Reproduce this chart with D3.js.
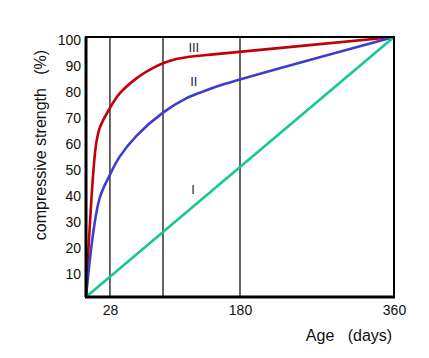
<!DOCTYPE html>
<html>
<head>
<meta charset="utf-8">
<script src="https://cdn.jsdelivr.net/npm/d3@7"></script>
<style>
  body { margin: 0; background: #fff; }
  text { font-family: "Liberation Sans", Arial, sans-serif; }
</style>
</head>
<body>
<div id="chart"></div>
<script>
// curve data (age in days, strength in %)
let daysIII = [0, 11.4, 16, 27.8, 39.4, 59, 78, 90, 105.5, 121, 152, 360];
let valIII  = [0, 57.8, 65, 72.6, 78.3, 84.1, 88, 89.9, 91.5, 92.4, 93.4, 100];

let daysII = [0, 15.5, 27.8, 39.4, 59, 90, 117, 136.7, 152, 360];
let valII  = [0, 37.5, 46.9, 54, 62, 70.9, 76.4, 79, 80.9, 100];

let daysI = [0, 360];
let valI  = [0, 100];

let xTicks = [28, 180, 360];
let yTicks = [10, 20, 30, 40, 50, 60, 70, 80, 90, 100];
let gridDays = [28, 90, 180];

let curveLabels = ["III", "II", "I"];
let labelPos = [[126, 95.5], [126, 82.5], [125, 41]];
let colors = ["#c20008", "#3c3cce", "#17c98f"];

let width = 429, height = 358,
    margin = {top: 37, right: 35, bottom: 61, left: 86};

let svg = d3.select("#chart").append("svg")
    .attr("width", width)
    .attr("height", height);

let x = d3.scaleLinear().domain([0, 360]).range([margin.left, width - margin.right]);
let y = d3.scaleLinear().domain([0, 100]).range([height - margin.bottom, margin.top]);

// vertical reference lines
svg.selectAll(".grid")
    .data(gridDays)
    .enter().append("line")
    .attr("x1", d => x(d)).attr("x2", d => x(d))
    .attr("y1", y(0)).attr("y2", y(100))
    .attr("stroke", "#000")
    .attr("stroke-width", 1.2);

// curves
let series = [
    {d: daysIII, v: valIII},
    {d: daysII, v: valII},
    {d: daysI, v: valI}
];
let line = d3.line()
    .x(d => x(d[0]))
    .y(d => y(d[1]))
    .curve(d3.curveCatmullRom.alpha(0.5));

series.forEach(function(s, i) {
    svg.append("path")
        .datum(s.d.map((dd, j) => [dd, s.v[j]]))
        .attr("d", line)
        .attr("fill", "none")
        .attr("stroke", colors[i])
        .attr("stroke-width", 2.6);
});

// frame
svg.append("rect")
    .attr("x", x(0)).attr("y", y(100))
    .attr("width", x(360) - x(0)).attr("height", y(0) - y(100))
    .attr("fill", "none")
    .attr("stroke", "#000")
    .attr("stroke-width", 2);
svg.append("line")
    .attr("x1", x(0) - 1).attr("x2", x(360) + 1)
    .attr("y1", y(0)).attr("y2", y(0))
    .attr("stroke", "#000").attr("stroke-width", 3);
svg.append("line")
    .attr("x1", x(0)).attr("x2", x(0))
    .attr("y1", y(100)).attr("y2", y(0))
    .attr("stroke", "#000").attr("stroke-width", 3);

// axes
let yAxis = svg.append("g")
    .attr("transform", "translate(" + x(0) + ",0)")
    .call(d3.axisLeft(y).tickValues(yTicks).tickSize(0).tickPadding(5));
yAxis.select(".domain").remove();
yAxis.selectAll("text")
    .attr("dy", "0.55em")
    .style("font-size", "14px")
    .style("font-family", "Liberation Sans, Arial, sans-serif")
    .attr("fill", "#111");

let xAxis = svg.append("g")
    .attr("transform", "translate(0," + y(0) + ")")
    .call(d3.axisBottom(x).tickValues(xTicks).tickSize(0).tickPadding(8));
xAxis.select(".domain").remove();
xAxis.selectAll("text")
    .style("font-size", "14px")
    .style("font-family", "Liberation Sans, Arial, sans-serif")
    .attr("fill", "#111");

// curve labels
svg.selectAll(".lbl")
    .data(curveLabels)
    .enter().append("text")
    .attr("x", (d, i) => x(labelPos[i][0]))
    .attr("y", (d, i) => y(labelPos[i][1]))
    .attr("text-anchor", "middle")
    .attr("dominant-baseline", "middle")
    .style("font-size", "13px")
    .attr("fill", "#1c1c40")
    .text(d => d);

// axis titles
svg.append("text")
    .attr("transform", "translate(42,145) rotate(-90)")
    .attr("text-anchor", "middle")
    .attr("dominant-baseline", "middle")
    .style("font-size", "16px")
    .style("white-space", "pre")
    .attr("fill", "#111")
    .text("compressive strength   (%)");

svg.append("text")
    .attr("x", 349)
    .attr("y", 341)
    .attr("text-anchor", "middle")
    .style("font-size", "16px")
    .style("white-space", "pre")
    .attr("fill", "#111")
    .text("Age   (days)");
</script>
</body>
</html>
